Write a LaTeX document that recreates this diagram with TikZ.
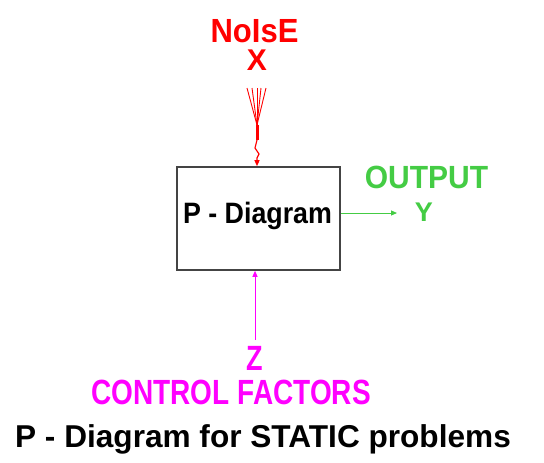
\documentclass[tikz,border=0pt]{standalone}
\usepackage{fontspec}
\setmainfont{Liberation Sans}
\usetikzlibrary{arrows.meta}
\definecolor{noisered}{RGB}{255,0,0}
\definecolor{outgreen}{RGB}{68,204,68}
\definecolor{ctrlmag}{RGB}{255,0,255}
\definecolor{boxgray}{RGB}{68,68,68}
\newcommand{\vtxt}[3]{\scalebox{1}[#2]{\fontsize{#1}{#1}\selectfont\bfseries #3}}
\tikzset{
  lbl/.style={inner sep=0pt, anchor=base},
  tipsty/.style={-{Triangle[length=6pt,width=5pt]}},
}
\begin{document}
\begin{tikzpicture}[x=1pt,y=-1pt]
\useasboundingbox[fill=white] (0,0) rectangle (544,463);
% box
\node[draw=boxgray, line width=1.6pt, minimum width=163pt, minimum height=103pt, inner sep=0pt] (box) at (258.5,218.5) {};
\node[lbl] (boxtxt) at (257.5,223) {\vtxt{26.8}{1.1}{P - Diagram}};
% noise
\node[lbl, text=noisered] (noise) at (254.5,42) {\vtxt{31}{1.08}{NoIsE}};
\node[lbl, text=noisered] (xlab) at (257,70) {\vtxt{30}{1.0}{X}};
\coordinate (n1) at (247,88);
\coordinate (n2) at (252,88);
\coordinate (n3) at (257,88);
\coordinate (n4) at (261,88);
\coordinate (n5) at (266,88);
\coordinate (nj) at (257,125);
\coordinate (nk) at (257,140);
\coordinate (nz1) at (255,148);
\coordinate (nz2) at (259,154);
\coordinate (nz3) at (257,158);
\foreach \p in {n1,n2,n3,n4,n5} \draw[noisered, line width=0.9pt] (\p) -- (nj);
\draw[noisered, line width=3pt] (nj) -- (nk);
\draw[noisered, line width=1.2pt, tipsty] (nk) -- (nz1) -- (nz2) -- (nz3) -- (nz3 |- box.north);
% output
\coordinate (yend) at (397,213);
\draw[outgreen, line width=1pt, tipsty] (box.east |- yend) -- (yend);
\node[lbl, text=outgreen] (out) at (426.5,188) {\vtxt{30}{1.07}{OUTPUT}};
\node[lbl, text=outgreen] (ylab) at (424,221) {\vtxt{27}{1.0}{Y}};
% control
\coordinate (zstart) at (255,340);
\draw[ctrlmag, line width=1pt, tipsty] (zstart) -- (zstart |- box.south);
\node[lbl, text=ctrlmag] (zlab) at (255,370) {\vtxt{27}{1.3}{Z}};
\node[lbl, text=ctrlmag] (ctrl) at (231,404) {\vtxt{28}{1.25}{CONTROL FACTORS}};
% title
\node[lbl] (title) at (263,447) {\vtxt{31.6}{1.0}{P - Diagram for STATIC problems}};
\end{tikzpicture}
\end{document}
